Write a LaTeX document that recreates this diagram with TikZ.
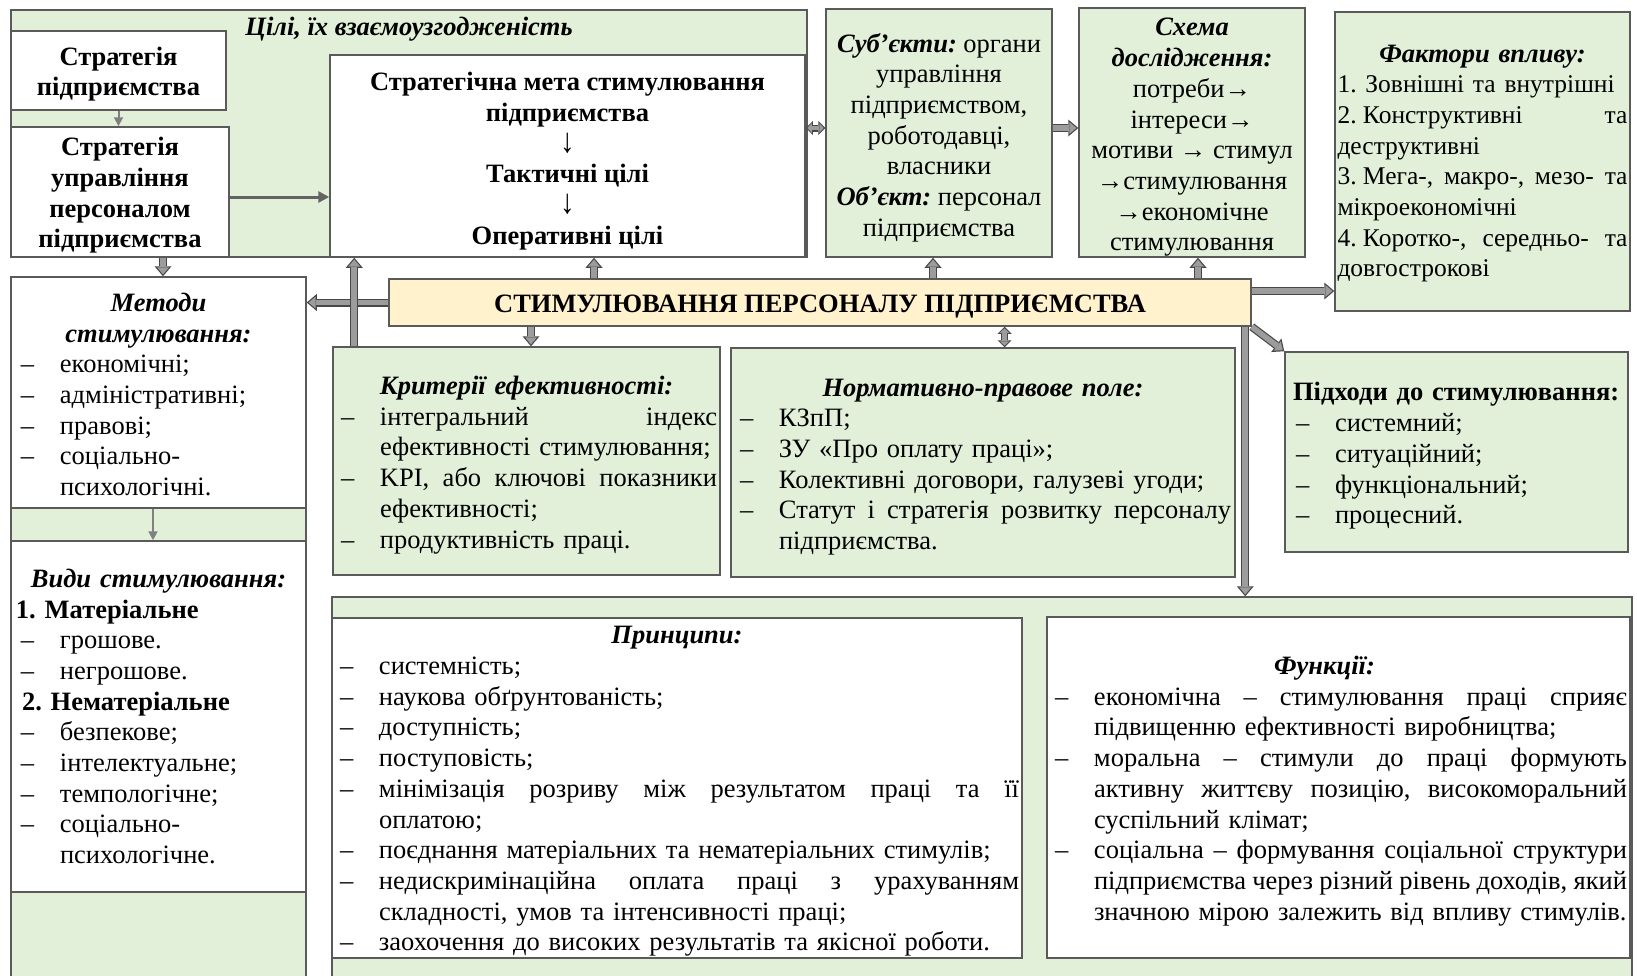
\documentclass[tikz,border=0pt]{standalone}
\usepackage{fontspec}
\usepackage{graphicx}
\setmainfont{Liberation Serif}
\usetikzlibrary{arrows.meta}

\definecolor{boxgreen}{HTML}{E2EFD9}
\definecolor{boxyellow}{HTML}{FFF2CC}
\definecolor{boxline}{HTML}{5A5A5A}
\definecolor{arrowfill}{HTML}{9C9C9C}
\definecolor{arrowline}{HTML}{474747}

\newcommand\txt{\fontsize{26.5}{30.7}\selectfont\frenchspacing}
\newcommand\hd[1]{\textbf{\textit{#1}}}
\newcommand\dsh{\hspace*{5pt}\makebox[39pt][l]{–}}
\newcommand\cnt{\hspace*{44pt}}
\newcommand\jl[1]{\makebox[\dimexpr\hsize-44pt\relax][l]{\spaceskip=0.12em plus 1fill\relax #1}}
\newcommand\jfull[1]{\makebox[\hsize][l]{\spaceskip=0.12em plus 1fill\relax #1}}
\newcommand\ctr[1]{\makebox[\hsize]{#1}}
\newcommand\dn{\scalebox{1.1}[1.3]{↓}}
\newcommand\nsp{\hspace{0.25em}}

\tikzset{
  every node/.style={font=\txt},
  green box/.style={draw=boxline, line width=1.5pt, fill=boxgreen, inner sep=0pt},
  white box/.style={draw=boxline, line width=1.5pt, fill=white, inner sep=0pt},
  core box/.style={draw=boxline, line width=1.5pt, fill=boxyellow, inner sep=0pt},
  box text/.style={inner sep=0pt, align=center},
  list/.style={align=left},
  bold/.style={font=\txt\bfseries},
  thin link/.style={draw=black!50, line width=2pt, -{Triangle[length=9pt,width=9pt]}},
  mid link/.style={draw=arrowline!85, line width=3pt, -{Triangle[length=11pt,width=11pt]}},
  fat/.style={line width=8pt, draw=arrowline, -{Triangle[length=10pt,width=17pt,line width=0pt]},
    postaction={draw=arrowfill, line width=5.6pt, shorten >=1.85pt, -{Triangle[length=6.95pt,width=11.8pt,line width=0pt]}}},
  fat both/.style={line width=7pt, draw=arrowline, {Triangle[length=7pt,width=14pt,line width=0pt]}-{Triangle[length=7pt,width=14pt,line width=0pt]},
    postaction={draw=arrowfill, line width=4.6pt, shorten >=1.6pt, shorten <=1.6pt, {Triangle[length=4.4pt,width=9.6pt,line width=0pt]}-{Triangle[length=4.4pt,width=9.6pt,line width=0pt]}}}
}

\begin{document}
\begin{tikzpicture}[x=1pt, y=-1pt]
  \path[use as bounding box] (0,0) rectangle (1637,975);
  \clip (0,0) rectangle (1637,975);
  \fill[white] (0,0) rectangle (1637,975);

  \node[green box, minimum width=796pt, minimum height=247pt] (goals) at (409,133.5) {};
  \node[box text] (goals text) at (409,29) {\hd{Цілі, їх взаємоузгодженість}};
  \node[white box, minimum width=215pt, minimum height=79pt] (strat) at (118.5,70.5) {};
  \node[box text, bold] (strat text) at (118.5,74) {Стратегія\\підприємства};
  \node[white box, minimum width=218pt, minimum height=130pt] (hr strat) at (120,192) {};
  \node[box text, bold] (hr strat text) at (120,195.5) {Стратегія\\управління\\персоналом\\підприємства};
  \node[white box, minimum width=475pt, minimum height=202pt] (aim) at (567.5,156) {};
  \node[box text, bold] (aim text) at (567.5,161) {Стратегічна мета стимулювання\\підприємства\\\dn\\Тактичні цілі\\\dn\\Оперативні цілі};

  \node[green box, minimum width=226pt, minimum height=248pt] (subjects) at (939,133) {};
  \node[box text] (subjects text) at (939,137.5) {\hd{Суб’єкти:} органи\\управління\\підприємством,\\роботодавці,\\власники\\\hd{Об’єкт:} персонал\\підприємства};
  \node[green box, minimum width=226pt, minimum height=249pt] (scheme) at (1192,132.5) {};
  \node[box text] (scheme text) at (1192,137.5) {\hd{Схема}\\\hd{дослідження:}\\потреби→\\інтереси→\\мотиви → стимул\\→стимулювання\\→економічне\\стимулювання};
  \node[green box, minimum width=295pt, minimum height=299pt] (factors) at (1482.5,161.5) {};
  \node[box text, list, text width=290pt] (factors text) at (1482.5,163.5) {\ctr{\hd{Фактори впливу:}}\\
    \fontsize{25.5}{30.7}\selectfont
    1. Зовнішні та внутрішні\\
    \jfull{2.\nsp Конструктивні та}\\
    деструктивні\\
    \jfull{3.\nsp Мега-, макро-, мезо- та}\\
    мікроекономічні\\
    \jfull{4.\nsp Коротко-, середньо- та}\\
    довгострокові};

  \node[core box, minimum width=862pt, minimum height=47pt] (core) at (820,302.5) {};
  \node[box text, bold] (core text) at (820,306.5) {СТИМУЛЮВАННЯ ПЕРСОНАЛУ ПІДПРИЄМСТВА};

  \node[green box, minimum width=295pt, minimum height=713pt] (left col) at (158.5,633.5) {};
  \node[white box, minimum width=295pt, minimum height=231pt] (methods) at (158.5,392.5) {};
  \node[box text, list, text width=285pt] (methods text) at (158.5,394.5) {\ctr{\hd{Методи}}\\
    \ctr{\hd{стимулювання:}}\\
    \dsh економічні;\\
    \dsh адміністративні;\\
    \dsh правові;\\
    \dsh соціально-\\
    \cnt психологічні.};
  \node[white box, minimum width=295pt, minimum height=351pt] (kinds) at (158.5,716.5) {};
  \node[box text, list, text width=285pt] (kinds text) at (158.5,716.5) {\ctr{\hd{Види стимулювання:}}\\
    \textbf{1. Матеріальне}\\
    \dsh грошове.\\
    \dsh негрошове.\\
    \hspace*{6pt}\textbf{2. Нематеріальне}\\
    \dsh безпекове;\\
    \dsh інтелектуальне;\\
    \dsh темпологічне;\\
    \dsh соціально-\\
    \cnt психологічне.};

  \node[green box, minimum width=387pt, minimum height=228pt] (crit) at (526.5,461) {};
  \node[box text, list, text width=381pt] (crit text) at (526.5,465) {\ctr{\hd{Критерії ефективності:}}\\
    \dsh\jl{інтегральний індекс}\\
    \cnt ефективності стимулювання;\\
    \dsh\jl{KPI, або ключові показники}\\
    \cnt ефективності;\\
    \dsh продуктивність праці.};
  \node[green box, minimum width=504pt, minimum height=229pt] (law) at (983,462.5) {};
  \node[box text, list, text width=496pt] (law text) at (983,467) {\ctr{\hd{Нормативно-правове поле:}}\\
    \dsh КЗпП;\\
    \dsh ЗУ «Про оплату праці»;\\
    \dsh Колективні договори, галузеві угоди;\\
    \dsh\jl{Статут і стратегія розвитку персоналу}\\
    \cnt підприємства.};
  \node[green box, minimum width=343pt, minimum height=200pt] (approaches) at (1456.5,452) {};
  \node[box text, list, text width=331pt] (approaches text) at (1456.5,456) {\hspace*{2pt}\textbf{Підходи до стимулювання:}\\
    \dsh системний;\\
    \dsh ситуаційний;\\
    \dsh функціональний;\\
    \dsh процесний.};

  \node[green box, minimum width=1300pt, minimum height=393pt] (bottom) at (982,793.5) {};
  \node[white box, minimum width=690pt, minimum height=340pt] (principles) at (677,788) {};
  \node[box text, list, text width=684pt] (principles text) at (677,791.5) {\ctr{\hd{Принципи:}}\\
    \dsh системність;\\
    \dsh наукова обґрунтованість;\\
    \dsh доступність;\\
    \dsh поступовість;\\
    \dsh\jl{мінімізація розриву між результатом праці та її}\\
    \cnt оплатою;\\
    \dsh поєднання матеріальних та нематеріальних стимулів;\\
    \dsh\jl{недискримінаційна оплата праці з урахуванням}\\
    \cnt складності, умов та інтенсивності праці;\\
    \dsh заохочення до високих результатів та якісної роботи.};
  \node[white box, minimum width=583pt, minimum height=341pt] (functions) at (1338.5,787.5) {};
  \node[box text, list, text width=577pt] (functions text) at (1338.5,791) {\ctr{\hd{Функції:}\hspace*{28pt}}\\
    \dsh\jl{економічна – стимулювання праці сприяє}\\
    \cnt підвищенню ефективності виробництва;\\
    \dsh\jl{моральна – стимули до праці формують}\\
    \cnt\jl{активну життєву позицію, високоморальний}\\
    \cnt суспільний клімат;\\
    \dsh\jl{соціальна – формування соціальної структури}\\
    \cnt\jl{підприємства через різний рівень доходів, який}\\
    \cnt значною мірою залежить від впливу стимулів.};

  \draw[thin link] (strat.south) -- (strat.south |- hr strat.north);
  \draw[mid link] ([yshift=-5pt]hr strat.east) -- ([yshift=-5pt]hr strat.east -| aim.west);
  \draw[fat] ([xshift=43pt]hr strat.south) -- ([xshift=43pt]hr strat.south |- methods.north);
  \draw[thin link] ([xshift=-5.5pt]methods.south) -- ([xshift=-5.5pt]methods.south |- kinds.north);

  \draw[fat both] ([yshift=5pt]subjects.west -| aim.east) -- ([yshift=5pt]subjects.west);
  \draw[fat] ([yshift=5pt]subjects.east) -- ([yshift=5pt]subjects.east -| scheme.west);

  \draw[fat] (core.west) -- (core.west -| methods.east);
  \draw[fat] ([xshift=22pt]crit.north west) -- ([xshift=22pt]crit.north west |- aim.south);
  \draw[fat] ([xshift=26.5pt]aim.south |- core.north) -- ([xshift=26.5pt]aim.south);
  \draw[fat] ([xshift=-6pt]subjects.south |- core.north) -- ([xshift=-6pt]subjects.south);
  \draw[fat] ([xshift=6pt]scheme.south |- core.north) -- ([xshift=6pt]scheme.south);
  \draw[fat] ([yshift=11.5pt]core.east) -- ([yshift=11.5pt]core.east -| factors.west);
  \draw[fat] (core.south east) -- (approaches.north west);
  \draw[fat] ([xshift=-6.5pt]core.south east) -- ([xshift=-6.5pt]core.south east |- bottom.north);
  \draw[fat] ([xshift=4.5pt]crit.north |- core.south) -- ([xshift=4.5pt]crit.north);
  \draw[fat both] ([xshift=21.5pt]law.north |- core.south) -- ([xshift=21.5pt]law.north);
\end{tikzpicture}
\end{document}
